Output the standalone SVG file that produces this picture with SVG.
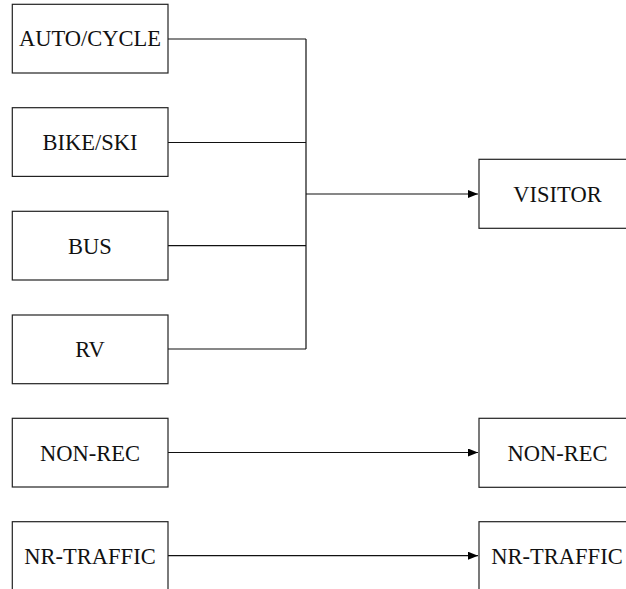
<svg xmlns="http://www.w3.org/2000/svg" width="626" height="589" viewBox="0 0 626 589">
<style>
.box{fill:#fff;stroke:#222;stroke-width:1.2}
.lbl{font-family:"Liberation Serif","Times New Roman",serif;font-size:22.5px;fill:#111;text-anchor:middle}
.ln{fill:none;stroke:#111;stroke-width:1.2}
</style>
<defs>
<marker id="arr" markerWidth="10" markerHeight="8" refX="10" refY="4" orient="auto" markerUnits="userSpaceOnUse">
<path d="M0,0 L10,4 L0,8 Z" fill="#000"/>
</marker>
</defs>
<rect width="626" height="589" fill="#fff"/>
<g id="connectors">
<path class="ln" d="M168,39 H306 M168,142.5 H306 M168,245.7 H306 M168,349 H306 M306,39 V349"/>
<path class="ln" d="M306,194 H478" marker-end="url(#arr)"/>
<path class="ln" d="M168,452.5 H478" marker-end="url(#arr)"/>
<path class="ln" d="M168,555.7 H478" marker-end="url(#arr)"/>
</g>
<g id="auto"><rect class="box" x="12.3" y="4.3" width="155.7" height="68.7"/><text class="lbl" x="90" y="46">AUTO/CYCLE</text></g>
<g id="bike"><rect class="box" x="12.3" y="107.7" width="155.7" height="68.7"/><text class="lbl" x="90" y="150">BIKE/SKI</text></g>
<g id="bus"><rect class="box" x="12.3" y="211.3" width="155.7" height="68.7"/><text class="lbl" x="90" y="253.5">BUS</text></g>
<g id="rv"><rect class="box" x="12.3" y="315" width="155.7" height="68.7"/><text class="lbl" x="90" y="357">RV</text></g>
<g id="nonrec-src"><rect class="box" x="12.3" y="418.3" width="155.7" height="68.7"/><text class="lbl" x="90" y="460.5">NON-REC</text></g>
<g id="nrtraffic-src"><rect class="box" x="12.3" y="521.7" width="155.7" height="68.7"/><text class="lbl" x="90" y="564">NR-TRAFFIC</text></g>
<g id="visitor"><rect class="box" x="479" y="159.3" width="157" height="69"/><text class="lbl" x="557.5" y="201.5">VISITOR</text></g>
<g id="nonrec-dst"><rect class="box" x="479" y="418.3" width="157" height="69"/><text class="lbl" x="557.5" y="460.5">NON-REC</text></g>
<g id="nrtraffic-dst"><rect class="box" x="479" y="521.7" width="157" height="69"/><text class="lbl" x="557" y="564">NR-TRAFFIC</text></g>
</svg>
